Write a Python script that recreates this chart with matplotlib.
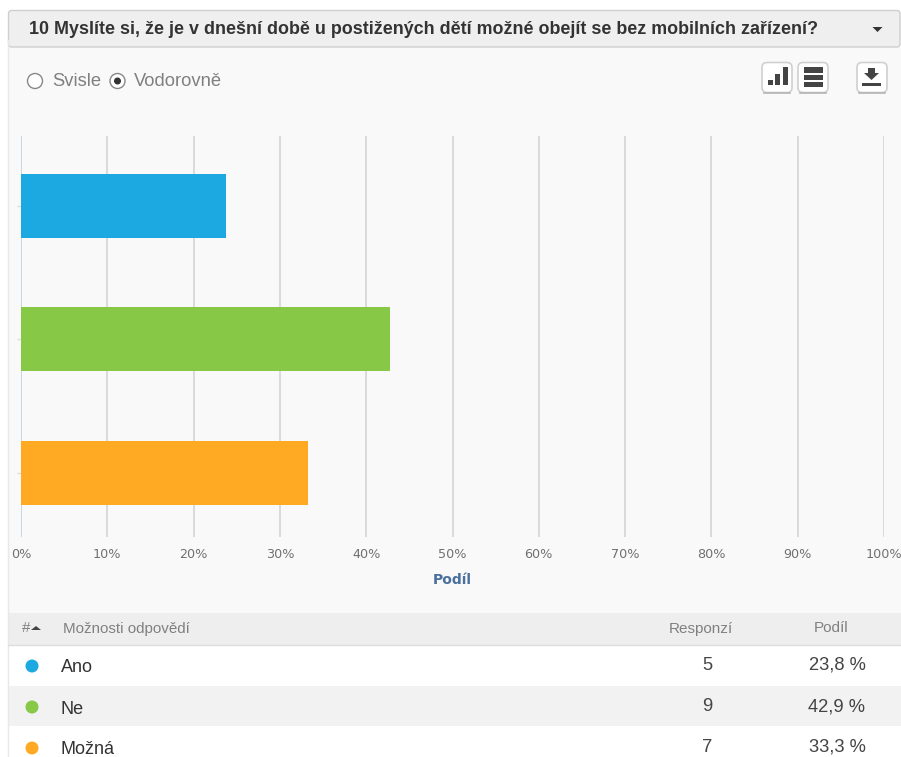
import matplotlib
matplotlib.use('Agg')
import matplotlib.pyplot as plt
from matplotlib.patches import Rectangle, FancyBboxPatch, Polygon, Circle

plt.rcParams['font.family'] = ['Liberation Sans', 'DejaVu Sans']

title = '10 Myslíte si, že je v dnešní době u postižených dětí možné obejít se bez mobilních zařízení?'
categories = ['Ano', 'Ne', 'Možná']
shares = [23.8, 42.7, 33.2]
responses = [5, 9, 7]
share_labels = ['23,8 %', '42,9 %', '33,3 %']
colors = ['#1CA9E1', '#87C847', '#FFAA22']
xticks = [0, 10, 20, 30, 40, 50, 60, 70, 80, 90, 100]

W, H = 901, 757
fig = plt.figure(figsize=(W / 100, H / 100), dpi=100, facecolor='white')

# background layer in pixel coordinates
bg = fig.add_axes([0, 0, 1, 1])
bg.set_xlim(0, W)
bg.set_ylim(H, 0)
bg.axis('off')

# panel
bg.add_patch(Rectangle((8, 47), 893, 566, fc='#F9F9F9', ec='none'))
bg.plot([8, 8], [40, H], color='#E8E8E8', lw=1)

# title bar
bg.add_patch(FancyBboxPatch((8.5, 10.5), 891.5, 36.5, boxstyle='round,pad=0,rounding_size=3',
                            fc='#EFEFEF', ec='#CFCFCF', lw=1))
bg.text(29, 29.5, title, fontsize=12.85, fontweight='bold', color='#333333', va='center')
bg.add_patch(Polygon([[872.5, 27], [882.5, 27], [877.5, 32]], fc='#333333', ec='none'))

# radio buttons
bg.add_patch(Circle((35, 81), 7.5, fc='white', ec='#888888', lw=1))
bg.text(52, 81, 'Svisle', fontsize=13.2, color='#808080', va='center')
bg.add_patch(Circle((117.5, 81), 7.5, fc='white', ec='#888888', lw=1))
bg.add_patch(Circle((117.5, 81), 3.5, fc='#333333', ec='none'))
bg.text(134, 81, 'Vodorovně', fontsize=13.2, color='#808080', va='center')

# icon buttons
for bx in [762, 798, 857]:
    bg.add_patch(FancyBboxPatch((bx, 62.5), 30, 30, boxstyle='round,pad=0,rounding_size=5',
                                fc='white', ec='#D0D0D0', lw=1.2))
    bg.plot([bx + 2, bx + 28], [92.5, 92.5], color='#B5B5B5', lw=1.2)
for x0, tp in [(768, 80), (775, 74), (783, 67)]:
    bg.add_patch(Rectangle((x0, tp), 4.5, 85 - tp, fc='#444444', ec='none'))
for tp in [67, 74.5, 81.5]:
    bg.add_patch(Rectangle((804, tp), 19, 5.5, fc='#444444', ec='none'))
bg.add_patch(Polygon([[868, 68], [875, 68], [875, 73], [879, 73], [871.5, 80], [864, 73], [868, 73]],
                     fc='#444444', ec='none'))
bg.add_patch(Rectangle((862, 83), 19, 2.5, fc='#444444', ec='none'))

# chart
left, right, top, bottom = 21, 884, 136, 537
ax = fig.add_axes([left / W, 1 - bottom / H, (right - left) / W, (bottom - top) / H])
ax.patch.set_alpha(0)
ax.barh(range(len(categories)), shares, height=0.48, color=colors, zorder=3)
ax.set_xlim(0, 100)
ax.set_ylim(2.48, -0.524)
ax.set_xticks(xticks)
ax.set_xticklabels([str(v) + '%' for v in xticks], fontsize=9.2, color='#707070',
                   family=['DejaVu Sans'])
ax.set_yticks(range(len(categories)))
ax.set_yticklabels([])
ax.tick_params(axis='x', length=0, pad=8)
ax.tick_params(axis='y', length=3, color='#DDDDDD', width=1)
ax.grid(axis='x', color='#D4D4D4', lw=1.2, zorder=1)
for s in ax.spines.values():
    s.set_visible(False)
ax.get_xgridlines()[0].set_color('#BFD0E0')
ax.set_xlabel('Podíl', fontsize=10, fontweight='bold', color='#4A6F9C', labelpad=8.5,
              family=['DejaVu Sans'])

# table, drawn on top of the background layer
bg.add_patch(Rectangle((8, 613), 893, 32, fc='#EEEEEE', ec='none'))
bg.plot([8, 901], [645, 645], color='#DEDEDE', lw=1)
bg.add_patch(Rectangle((8, 645), 893, 112, fc='white', ec='none'))
bg.add_patch(Rectangle((8, 686), 893, 40, fc='#F2F2F2', ec='none'))
bg.text(22, 628.5, '#', fontsize=11, color='#808080', va='center')
bg.add_patch(Polygon([[31, 630], [41, 630], [36, 626]], fc='#444444', ec='none'))
bg.text(63, 628.5, 'Možnosti odpovědí', fontsize=10.9, color='#808080', va='center')
bg.text(701, 628.5, 'Responzí', fontsize=11, color='#808080', va='center', ha='center')
bg.text(831, 628.5, 'Podíl', fontsize=11, color='#808080', va='center', ha='center')

row_y = [666, 707, 748]
for i, y in enumerate(row_y):
    bg.add_patch(Circle((32, y), 6.5, fc=colors[i], ec='none'))
    bg.text(61, y + 2, categories[i], fontsize=13, color='#333333', va='center')
    bg.text(707, y - 0.5, str(responses[i]), fontsize=13.2, color='#444444', va='center', ha='center')
    bg.text(837, y - 0.5, share_labels[i], fontsize=13.2, color='#444444', va='center', ha='center')

fig.savefig('out.png', dpi=100)
